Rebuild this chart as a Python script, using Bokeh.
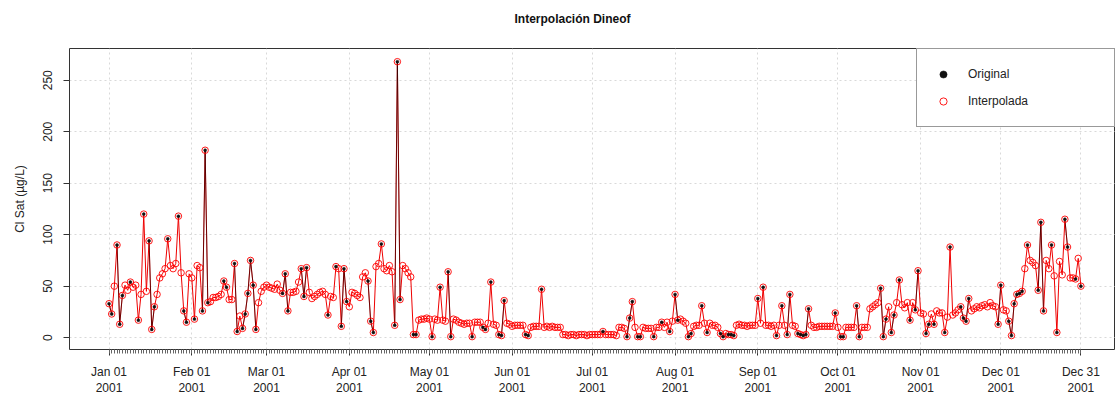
import numpy as np
from bokeh.plotting import figure
from bokeh.models import ColumnDataSource, FixedTicker, Legend, LegendItem, Range1d, Title
from bokeh.embed import file_html
from bokeh.resources import INLINE

title_text = "Interpolación Dineof"
y_label = "Cl Sat (µg/L)"
tick_labels = ["Jan 01\n2001", "Feb 01\n2001", "Mar 01\n2001", "Apr 01\n2001",
               "May 01\n2001", "Jun 01\n2001", "Jul 01\n2001", "Aug 01\n2001",
               "Sep 01\n2001", "Oct 01\n2001", "Nov 01\n2001", "Dec 01\n2001",
               "Dec 31\n2001"]
y_ticks = [0, 50, 100, 150, 200, 250]

# daily values of the interpolated (Dineof) series, one list per month
jan = [33, 23, 50, 90, 13, 41, 51, 46, 54, 49, 51, 17, 42, 120, 45, 94, 8, 30, 42, 58,
       62, 67, 96, 70, 67, 72, 118, 63, 26, 15, 62]
feb = [58, 18, 70, 68, 26, 182, 34, 35, 39, 39, 40, 42, 55, 49, 37, 37, 72, 6, 21, 9,
       23, 43, 75, 51, 8, 34, 45, 49]
mar = [51, 49, 48, 47, 52, 46, 43, 62, 26, 44, 44, 45, 54, 67, 40, 68, 44, 38, 40, 42,
       44, 45, 42, 22, 40, 39, 69, 67, 11, 67, 35]
apr = [30, 44, 43, 41, 39, 59, 63, 55, 16, 5, 69, 72, 91, 67, 65, 70, 64, 12, 268, 37,
       70, 67, 63, 59, 3, 3, 17, 18, 18, 19]
may = [18, 1, 18, 17, 49, 17, 16, 64, 1, 18, 17, 15, 14, 13, 14, 14, 1, 15, 15, 15,
       10, 8, 14, 54, 13, 12, 3, 2, 36, 14, 13]
jun = [11, 12, 12, 12, 12, 3, 2, 10, 11, 11, 11, 47, 10, 11, 10, 11, 10, 10, 10, 3,
       3, 2, 3, 3, 2, 3, 3, 3, 2, 3]
jul = [3, 3, 3, 3, 6, 3, 3, 3, 3, 2, 10, 10, 9, 1, 19, 35, 10, 1, 1, 10,
       9, 9, 9, 1, 10, 10, 15, 10, 15, 6, 16]
aug = [42, 17, 18, 16, 14, 1, 4, 11, 12, 12, 31, 14, 5, 14, 12, 12, 10, 4, 1, 4,
       3, 3, 2, 12, 13, 12, 12, 11, 12, 12, 12]
sep = [38, 14, 49, 12, 12, 11, 12, 2, 12, 31, 12, 3, 42, 12, 11, 4, 3, 2, 3, 28,
       12, 10, 10, 11, 11, 11, 11, 11, 11, 24]
oct_ = [10, 1, 1, 10, 10, 10, 10, 31, 1, 10, 10, 10, 28, 30, 32, 34, 48, 1, 18, 30,
        5, 22, 34, 56, 32, 29, 34, 17, 34, 27, 65]
nov = [24, 23, 4, 13, 23, 13, 26, 24, 24, 5, 20, 88, 22, 24, 27, 30, 19, 16, 38, 26,
       28, 30, 29, 31, 32, 30, 34, 31, 30, 13]
dec = [51, 27, 26, 16, 2, 33, 42, 43, 45, 67, 90, 75, 73, 70, 46, 112, 26, 75, 67, 90,
       60, 5, 74, 61, 115, 88, 58, 58, 57, 77, 50]

# days of the month that carry an original (satellite) observation
jan_orig = [1, 2, 4, 5, 6, 9, 12, 14, 16, 17, 18, 23, 27, 29, 30]
feb_orig = [2, 5, 6, 7, 13, 14, 17, 18, 20, 21, 22, 23, 24, 25]
mar_orig = [7, 8, 9, 14, 15, 16, 24, 27, 29, 30, 31]
apr_orig = [8, 9, 10, 13, 18, 19, 20, 25, 26]
may_orig = [2, 5, 8, 9, 17, 21, 22, 24, 27, 28, 29]
jun_orig = [6, 7, 12]
jul_orig = [5, 14, 15, 16, 18, 19, 24, 27, 30]
aug_orig = [1, 2, 6, 7, 11, 13, 18, 19, 21, 22, 23]
sep_orig = [1, 3, 8, 10, 12, 13, 16, 17, 18, 19, 20, 30]
oct_orig = [2, 3, 8, 9, 17, 18, 19, 21, 22, 24, 28, 30, 31]
nov_orig = [3, 4, 6, 10, 12, 16, 17, 18, 19, 30]
dec_orig = [1, 4, 5, 6, 7, 8, 9, 11, 15, 16, 17, 20, 22, 25, 26, 29, 31]

months = [jan, feb, mar, apr, may, jun, jul, aug, sep, oct_, nov, dec]
months_orig = [jan_orig, feb_orig, mar_orig, apr_orig, may_orig, jun_orig,
               jul_orig, aug_orig, sep_orig, oct_orig, nov_orig, dec_orig]

interp, orig = [], []
for vals, od in zip(months, months_orig):
    for i, v in enumerate(vals, start=1):
        interp.append(float(v))
        orig.append(float(v) if i in od else np.nan)
day = list(range(len(interp)))
month_starts = [int(s) for s in np.cumsum([0] + [len(m) for m in months[:-1]])]
major_ticks = month_starts + [len(interp) - 1]

src = ColumnDataSource(dict(day=day, interp=interp, orig=orig))

FONT = "Liberation Sans"
TXT = "#222222"

W, H = 1115, 397
ML, MR, MT, MB = 69, 0, 48, 45
px_day = 2.67
px_unit = 1.04
x0 = -14.8
y0 = -11.5
p = figure(width=W, height=H, output_backend="svg", toolbar_location=None,
           x_range=Range1d(x0, x0 + (W - ML - MR) / px_day),
           y_range=Range1d(y0, y0 + (H - MT - MB) / px_unit),
           min_border_left=ML, min_border_right=MR, min_border_top=MT, min_border_bottom=MB,
           background_fill_color="white", border_fill_color="white",
           title=title_text)
p.outline_line_color = "#333333"
p.outline_line_width = 1

p.title.align = "left"
p.title.offset = 445
p.title.vertical_align = "middle"
p.title.standoff = 8
p.title.text_font = FONT
p.title.text_font_size = "12px"
p.title.text_font_style = "bold"
p.title.text_color = "#111111"
# empty spacer panel between the title and the plot frame
p.add_layout(Title(text=" ", text_font_size="1px", standoff=15), "above")

# axes
xa = p.xaxis[0]
xa.ticker = FixedTicker(ticks=major_ticks, minor_ticks=day)
xa.major_label_overrides = {t: lab for t, lab in zip(major_ticks, tick_labels)}
xa.bounds = (0, len(interp) - 1)
xa.axis_line_color = "#333333"
xa.major_tick_line_color = "#333333"
xa.minor_tick_line_color = "#666666"
xa.major_tick_out = 6
xa.major_tick_in = 0
xa.minor_tick_out = 4
xa.minor_tick_in = 0
xa.major_label_standoff = 9
xa.major_label_text_font = FONT
xa.major_label_text_font_size = "12px"
xa.major_label_text_color = TXT
xa.major_label_text_line_height = 1.17

ya = p.yaxis[0]
ya.ticker = FixedTicker(ticks=y_ticks, minor_ticks=[])
ya.bounds = (0, 250)
ya.axis_line_color = "#333333"
ya.major_tick_line_color = "#333333"
ya.major_tick_out = 6
ya.major_tick_in = 0
ya.major_label_orientation = "vertical"
ya.major_label_standoff = 11
ya.major_label_text_font = FONT
ya.major_label_text_font_size = "12px"
ya.major_label_text_color = TXT
ya.axis_label = y_label
ya.axis_label_text_font = FONT
ya.axis_label_text_font_size = "12px"
ya.axis_label_text_font_style = "normal"
ya.axis_label_text_color = TXT
ya.axis_label_standoff = 14

for g in (p.xgrid[0], p.ygrid[0]):
    g.grid_line_color = "#d9d9d9"
    g.grid_line_dash = "2 3"
    g.grid_line_width = 1

# series
p.line("day", "interp", source=src, line_color="#ee0000", line_width=1)
p.line("day", "orig", source=src, line_color="#000000", line_width=1, line_alpha=0.55)
r_int = p.scatter("day", "interp", source=src, marker="circle", size=6.5,
                  fill_color=None, line_color="#ff0000", line_width=0.9)
r_org = p.scatter("day", "orig", source=src, marker="circle", size=3.0,
                  fill_color="#111111", line_color="#111111", line_width=0.5)

legend = Legend(items=[LegendItem(label="Original", renderers=[r_org]),
                       LegendItem(label="Interpolada", renderers=[r_int])],
                location="top_right", margin=0, padding=16, spacing=9,
                label_height=18, glyph_height=18, glyph_width=20,
                label_standoff=15, label_width=130,
                border_line_color="#333333", border_line_width=1,
                background_fill_color="white", background_fill_alpha=1,
                label_text_font=FONT, label_text_font_size="12px",
                label_text_color=TXT)
p.add_layout(legend)

open("out.html", "w").write(file_html(p, INLINE))
